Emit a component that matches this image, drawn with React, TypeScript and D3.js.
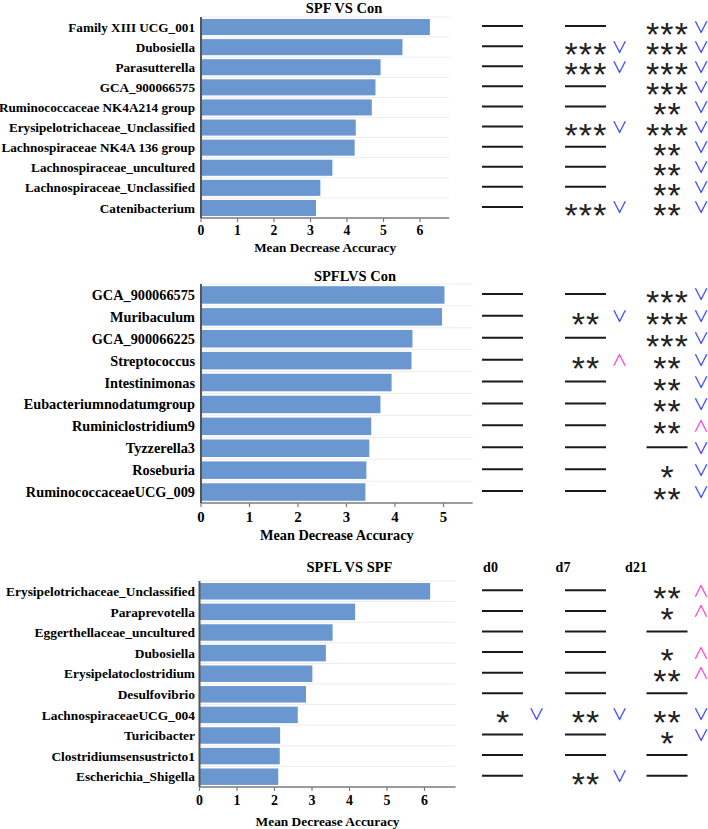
import * as d3 from "d3";
import * as React from "react";

// SPF VS Con: top genera by Mean Decrease Accuracy
const spfConTaxa = [
  "Family XIII UCG_001",
  "Dubosiella",
  "Parasutterella",
  "GCA_900066575",
  "Ruminococcaceae NK4A214 group",
  "Erysipelotrichaceae_Unclassified",
  "Lachnospiraceae NK4A 136 group",
  "Lachnospiraceae_uncultured",
  "Lachnospiraceae_Unclassified",
  "Catenibacterium",
];
const spfConMDA = [6.27, 5.52, 4.92, 4.78, 4.68, 4.24, 4.21, 3.6, 3.27, 3.15];
// "-" = not significant, stars = p level, "v" = decreased, "^" = increased
const spfConD0 = ["-", "-", "-", "-", "-", "-", "-", "-", "-", "-"];
const spfConD7 = ["-", "***v", "***v", "-", "-", "***v", "-", "-", "-", "***v"];
const spfConD21 = ["***v", "***v", "***v", "***v", "**v", "***v", "**v", "**v", "**v", "**v"];

// SPFL VS Con
const spflConTaxa = [
  "GCA_900066575",
  "Muribaculum",
  "GCA_900066225",
  "Streptococcus",
  "Intestinimonas",
  "Eubacteriumnodatumgroup",
  "Ruminiclostridium9",
  "Tyzzerella3",
  "Roseburia",
  "RuminococcaceaeUCG_009",
];
const spflConMDA = [5.02, 4.97, 4.36, 4.34, 3.93, 3.7, 3.51, 3.47, 3.41, 3.39];
const spflConD0 = ["-", "-", "-", "-", "-", "-", "-", "-", "-", "-"];
const spflConD7 = ["-", "**v", "-", "**^", "-", "-", "-", "-", "-", "-"];
const spflConD21 = ["***v", "***v", "***v", "**v", "**v", "**v", "**^", "-v", "*v", "**v"];

// SPFL VS SPF
const spflSpfTaxa = [
  "Erysipelotrichaceae_Unclassified",
  "Paraprevotella",
  "Eggerthellaceae_uncultured",
  "Dubosiella",
  "Erysipelatoclostridium",
  "Desulfovibrio",
  "LachnospiraceaeUCG_004",
  "Turicibacter",
  "Clostridiumsensustricto1",
  "Escherichia_Shigella",
];
const spflSpfMDA = [6.15, 4.15, 3.55, 3.37, 3.01, 2.84, 2.62, 2.15, 2.14, 2.1];
const spflSpfD0 = ["-", "-", "-", "-", "-", "-", "*v", "-", "-", "-"];
const spflSpfD7 = ["-", "-", "-", "-", "-", "-", "**v", "-", "-", "**v"];
const spflSpfD21 = ["**^", "*^", "-", "*^", "**^", "-", "**v", "*v", "-", "-"];

const dayLabels = ["d0", "d7", "d21"];

const barColor = "#6b97d1";
const downColor = "#1f2fff";
const upColor = "#ff30d0";
const serif = '"Liberation Serif", "Times New Roman", serif';
const cjk = '"Noto Sans CJK SC", "DejaVu Sans", sans-serif';

// x centre of the d0 / d7 / d21 mark columns, and where their headers sit
const colX = [502.5, 585.5, 667];
const dayX = [490.5, 563, 636];

interface PanelProps {
  title: string;
  taxa: string[];
  mda: number[];
  marks: string[][];
  top: number;
  bottom: number;
  left: number;
  max: number;
  unit: number;
  font: number;
  titleX: number;
  titleY: number;
  labelGap: number;
  tickY: number;
  axisTitleY: number;
  showDays?: boolean;
}

function Mark({ code, cx, cy }: { code: string; cx: number; cy: number }) {
  const stars = code.replace(/[^*]/g, "");
  const dir = code.endsWith("v") ? "down" : code.endsWith("^") ? "up" : null;
  return (
    <g>
      {stars.length === 0 ? (
        <line x1={cx - 20.5} x2={cx + 20.5} y1={cy - 1} y2={cy - 1} stroke="#1a1a1a" strokeWidth={2} />
      ) : (
        <text
          x={cx + 0.6}
          y={cy + 19}
          textAnchor="middle"
          fontFamily='"Liberation Sans", Arial, sans-serif'
          fontSize={34}
          letterSpacing={1.2}
          fill="#222"
        >
          {stars}
        </text>
      )}
      {dir && (
        <text
          x={cx + 34}
          y={cy + 5.5}
          textAnchor="middle"
          fontFamily={cjk}
          fontWeight={400}
          fontSize={16}
          fill={dir === "down" ? downColor : upColor}
        >
          {dir === "down" ? "\u2228" : "\u2227"}
        </text>
      )}
    </g>
  );
}

function Panel(p: PanelProps) {
  const right = p.left + p.max * p.unit;
  const x = d3.scaleLinear().domain([0, p.max]).range([p.left, right]);
  const y = d3
    .scaleBand<string>()
    .domain(p.taxa)
    .range([p.top, p.bottom])
    .paddingInner(0.2)
    .paddingOuter(0.1);
  const ticks = d3.range(0, Math.floor(p.max) + 1);
  const step = y.step();
  const y0 = p.top;

  return (
    <g>
      <text
        x={p.titleX}
        y={p.titleY}
        textAnchor="middle"
        fontFamily={serif}
        fontWeight="bold"
        fontSize={14.5}
      >
        {p.title}
      </text>

      {/* light separators between rows */}
      {d3.range(0, p.taxa.length).map((i) => (
        <line
          key={"g" + i}
          x1={p.left}
          x2={right}
          y1={y0 + i * step}
          y2={y0 + i * step}
          stroke="#ececec"
          strokeWidth={1}
        />
      ))}

      {p.taxa.map((t, i) => (
        <rect
          key={"b" + t}
          x={x(0)}
          y={y(t)}
          width={x(p.mda[i]) - x(0)}
          height={y.bandwidth()}
          fill={barColor}
        />
      ))}

      {p.taxa.map((t) => (
        <text
          key={"l" + t}
          x={p.left - p.labelGap}
          y={(y(t) ?? 0) + y.bandwidth() / 2}
          dy="0.35em"
          textAnchor="end"
          fontFamily={serif}
          fontWeight="bold"
          fontSize={p.font}
        >
          {t}
        </text>
      ))}

      {/* x axis */}
      <line x1={p.left} x2={right} y1={p.bottom} y2={p.bottom} stroke="#7a7a7a" strokeWidth={1.5} />
      {ticks.map((v) => (
        <g key={"t" + v}>
          <line x1={x(v)} x2={x(v)} y1={p.bottom} y2={p.bottom + 4} stroke="#7a7a7a" strokeWidth={1.2} />
          <text
            x={x(v)}
            y={p.tickY}
            textAnchor="middle"
            fontFamily={serif}
            fontWeight="bold"
            fontSize={p.font + 0.5}
          >
            {v}
          </text>
        </g>
      ))}
      <line x1={p.left} x2={p.left} y1={p.top} y2={p.bottom} stroke="#555" strokeWidth={2} />
      <text
        x={(p.left + right) / 2}
        y={p.axisTitleY}
        textAnchor="middle"
        fontFamily={serif}
        fontWeight="bold"
        fontSize={p.font}
      >
        Mean Decrease Accuracy
      </text>

      {p.showDays &&
        dayLabels.map((d, j) => (
          <text
            key={d}
            x={dayX[j]}
            y={p.titleY}
            textAnchor="middle"
            fontFamily={serif}
            fontWeight="bold"
            fontSize={14}
          >
            {d}
          </text>
        ))}

      {p.taxa.map((t, i) =>
        p.marks.map((col, j) => (
          <Mark key={"m" + t + j} code={col[i]} cx={colX[j]} cy={(y(t) ?? 0) + y.bandwidth() / 2} />
        ))
      )}
    </g>
  );
}

export default function App() {
  return (
    <svg
      width={708}
      height={829}
      style={{ position: "absolute", left: 0, top: 0, background: "#fff" }}
    >
      <rect width={708} height={829} fill="#fff" />
      <Panel
        title="SPF VS Con"
        taxa={spfConTaxa}
        mda={spfConMDA}
        marks={[spfConD0, spfConD7, spfConD21]}
        top={17}
        bottom={218}
        left={201}
        max={6.8}
        unit={36.5}
        font={13.2}
        titleX={344}
        titleY={12.5}
        labelGap={6}
        tickY={235}
        axisTitleY={252}
      />
      <Panel
        title="SPFLVS Con"
        taxa={spflConTaxa}
        mda={spflConMDA}
        marks={[spflConD0, spflConD7, spflConD21]}
        top={284}
        bottom={503}
        left={201}
        max={5.6}
        unit={48.5}
        font={14.3}
        titleX={355}
        titleY={281}
        labelGap={6}
        tickY={522}
        axisTitleY={540}
      />
      <Panel
        title="SPFL VS SPF"
        taxa={spflSpfTaxa}
        mda={spflSpfMDA}
        marks={[spflSpfD0, spflSpfD7, spflSpfD21]}
        top={581}
        bottom={787}
        left={199.5}
        max={6.83}
        unit={37.5}
        font={13.4}
        titleX={349.5}
        titleY={572}
        labelGap={4.5}
        tickY={805}
        axisTitleY={826}
        showDays
      />
    </svg>
  );
}
